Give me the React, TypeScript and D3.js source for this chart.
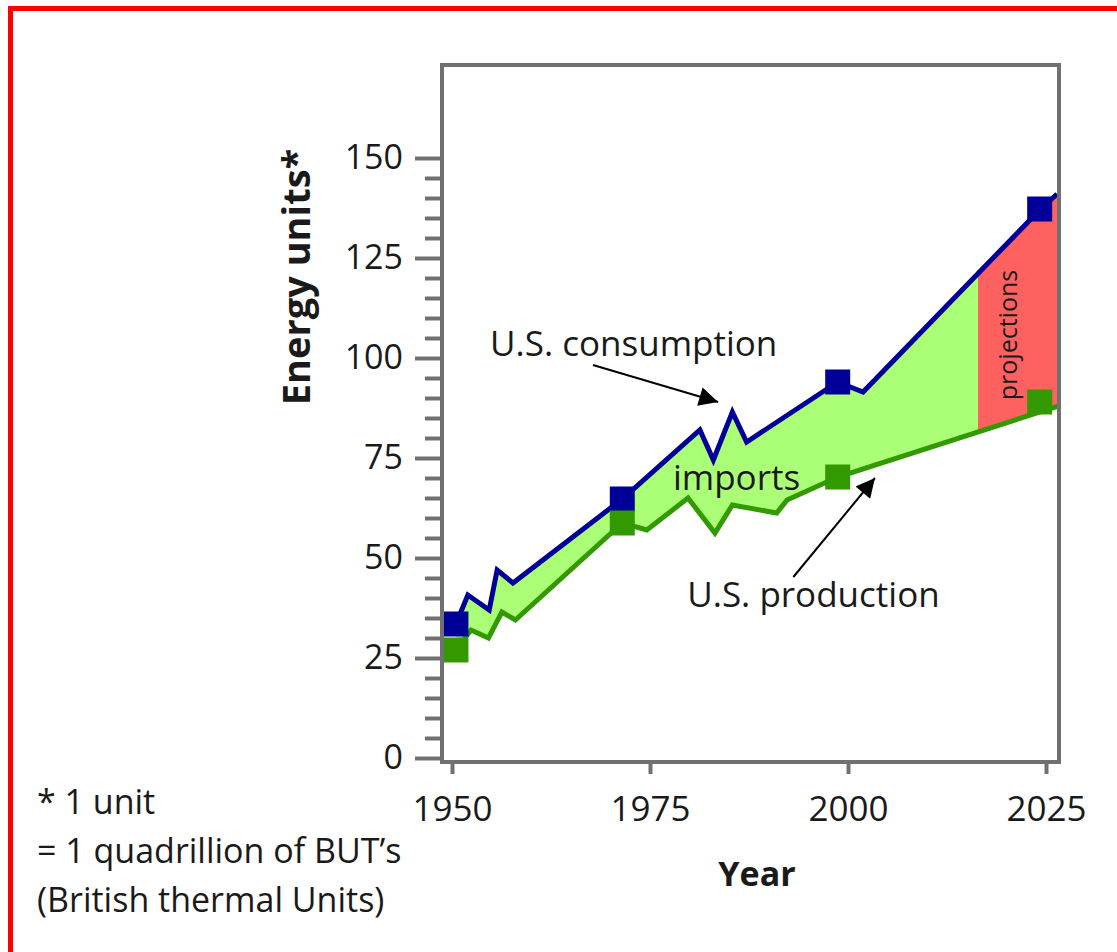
import React, { useEffect, useRef } from "react";
import * as d3 from "d3";

// consumption line (blue)
const consumptionYears = [1950.5, 1952, 1954.7, 1955.7, 1957.7, 1971.5, 1981.3, 1983, 1985.4, 1987.2, 1998.7, 2001.9, 2024.2, 2026.4];
const consumptionValues = [33.5, 40.75, 37, 47, 43.75, 64.75, 82, 74.5, 86.5, 79, 94, 91.5, 137, 141];

// production line (green)
const productionYears = [1950.5, 1952.4, 1954.6, 1956.3, 1958, 1971.5, 1974.6, 1979.8, 1983.2, 1985.4, 1991, 1992.3, 1998.7, 2026.6];
const productionValues = [27, 32, 30, 36.5, 34.5, 58.75, 57, 65, 56.25, 63.25, 61.25, 64.5, 70.25, 88];

// square markers
const markerYears = [1950.5, 1971.5, 1998.7, 2024.2];
const consumptionMarkers = [33.5, 64.75, 94, 137.25];
const productionMarkers = [27, 58.75, 70.25, 89];

const projectionStart = 2016.4;

const xTicks = [1950, 1975, 2000, 2025];
const yMajorTicks = [0, 25, 50, 75, 100, 125, 150];
const yMinorTicks = d3.range(0, 151, 5).filter((v) => v % 25 !== 0);

const footnote = ["* 1 unit", "= 1 quadrillion of BUT\u2019s", "(British thermal Units)"];

const FONT = "'Open Sans', sans-serif";

export default function App() {
  const ref = useRef<SVGSVGElement | null>(null);

  useEffect(() => {
    const svg = d3.select(ref.current);
    svg.selectAll("*").remove();

    const frame = { left: 442, top: 65, right: 1059, bottom: 762 };
    const x = d3.scaleLinear().domain([1950, 2025]).range([452, 1046]);
    const y = d3.scaleLinear().domain([0, 150]).range([758, 158]);

    const cons = consumptionYears.map((yr, i) => ({ yr, v: consumptionValues[i] }));
    const prod = productionYears.map((yr, i) => ({ yr, v: productionValues[i] }));

    const line = d3
      .line<{ yr: number; v: number }>()
      .x((d) => x(d.yr))
      .y((d) => y(d.v));

    // outer red border
    svg
      .append("rect")
      .attr("x", 10.5)
      .attr("y", 8.5)
      .attr("width", 1120)
      .attr("height", 946)
      .attr("fill", "none")
      .attr("stroke", "#ff0000")
      .attr("stroke-width", 5);

    const defs = svg.append("defs");
    defs
      .append("clipPath")
      .attr("id", "plotClip")
      .append("rect")
      .attr("x", frame.left)
      .attr("y", frame.top)
      .attr("width", frame.right - frame.left)
      .attr("height", frame.bottom - frame.top);
    defs
      .append("clipPath")
      .attr("id", "histClip")
      .append("rect")
      .attr("x", frame.left)
      .attr("y", frame.top)
      .attr("width", x(projectionStart) - frame.left)
      .attr("height", frame.bottom - frame.top);
    defs
      .append("clipPath")
      .attr("id", "projClip")
      .append("rect")
      .attr("x", x(projectionStart))
      .attr("y", frame.top)
      .attr("width", frame.right - x(projectionStart))
      .attr("height", frame.bottom - frame.top);
    defs
      .append("marker")
      .attr("id", "arrowHead")
      .attr("viewBox", "0 0 10 10")
      .attr("refX", 10)
      .attr("refY", 5)
      .attr("markerUnits", "userSpaceOnUse")
      .attr("markerWidth", 24)
      .attr("markerHeight", 19)
      .attr("orient", "auto")
      .append("path")
      .attr("d", "M0,0L10,5L0,10Z")
      .attr("fill", "#000");

    const plot = svg.append("g").attr("clip-path", "url(#plotClip)");
    const bandPath = line(cons.concat(prod.slice().reverse())) + "Z";

    plot
      .append("path")
      .attr("d", bandPath)
      .attr("fill", "#aaff77")
      .attr("clip-path", "url(#histClip)");
    plot
      .append("path")
      .attr("d", bandPath)
      .attr("fill", "#ff6060")
      .attr("clip-path", "url(#projClip)");

    plot
      .append("path")
      .attr("d", line(prod))
      .attr("fill", "none")
      .attr("stroke", "#339900")
      .attr("stroke-width", 5);
    plot
      .append("path")
      .attr("d", line(cons))
      .attr("fill", "none")
      .attr("stroke", "#000099")
      .attr("stroke-width", 5);

    const sq = 25;
    plot
      .selectAll("rect.cm")
      .data(markerYears)
      .enter()
      .append("rect")
      .attr("class", "cm")
      .attr("x", (d) => x(d) - sq / 2)
      .attr("y", (d, i) => y(consumptionMarkers[i]) - sq / 2)
      .attr("width", sq)
      .attr("height", sq)
      .attr("fill", "#000099");
    plot
      .selectAll("rect.pm")
      .data(markerYears)
      .enter()
      .append("rect")
      .attr("class", "pm")
      .attr("x", (d) => x(d) - sq / 2)
      .attr("y", (d, i) => y(productionMarkers[i]) - sq / 2)
      .attr("width", sq)
      .attr("height", sq)
      .attr("fill", "#339900");

    // axes
    const axisColor = "#707070";
    const yMinor = svg
      .append("g")
      .attr("transform", `translate(${frame.left},0)`)
      .call(d3.axisLeft(y).tickValues(yMinorTicks).tickSize(17).tickFormat(() => ""));
    yMinor.select(".domain").remove();
    yMinor.selectAll("line").attr("stroke", axisColor).attr("stroke-width", 4);

    const yMajor = svg
      .append("g")
      .attr("transform", `translate(${frame.left},0)`)
      .call(d3.axisLeft(y).tickValues(yMajorTicks).tickSize(27).tickPadding(12));
    yMajor.select(".domain").remove();
    yMajor.selectAll("line").attr("stroke", axisColor).attr("stroke-width", 4);
    yMajor
      .selectAll("text")
      .attr("fill", "#1a1a1a")
      .style("font-family", FONT)
      .style("font-size", "34px");

    const xAxis = svg
      .append("g")
      .attr("transform", `translate(0,${frame.bottom})`)
      .call(d3.axisBottom(x).tickValues(xTicks).tickSize(12).tickPadding(22).tickFormat(d3.format("d")));
    xAxis.select(".domain").remove();
    xAxis.selectAll("line").attr("stroke", axisColor).attr("stroke-width", 4);
    xAxis
      .selectAll("text")
      .attr("fill", "#1a1a1a")
      .style("font-family", FONT)
      .style("font-size", "35px");

    // plot frame
    svg
      .append("rect")
      .attr("x", frame.left)
      .attr("y", frame.top)
      .attr("width", frame.right - frame.left)
      .attr("height", frame.bottom - frame.top)
      .attr("fill", "none")
      .attr("stroke", axisColor)
      .attr("stroke-width", 4);

    // axis titles
    svg
      .append("text")
      .attr("transform", "translate(310,277) rotate(-90)")
      .attr("text-anchor", "middle")
      .style("font-family", FONT)
      .style("font-weight", 700)
      .style("font-size", "38px")
      .attr("fill", "#1a1a1a")
      .text("Energy units*");
    svg
      .append("text")
      .attr("x", 757)
      .attr("y", 886)
      .attr("text-anchor", "middle")
      .style("font-family", FONT)
      .style("font-weight", 700)
      .style("font-size", "34px")
      .attr("fill", "#1a1a1a")
      .text("Year");

    // annotations
    const note = (txt: string, yr: number, v: number, size: number) =>
      svg
        .append("text")
        .attr("x", x(yr))
        .attr("y", y(v))
        .style("font-family", FONT)
        .style("font-size", size + "px")
        .attr("fill", "#1a1a1a")
        .text(txt);
    note("U.S. consumption", 1954.8, 100.5, 35);
    note("imports", 1977.9, 67, 35);
    note("U.S. production", 1979.7, 37.75, 35);

    svg
      .append("text")
      .attr("transform", `translate(${x(2021.4)},${y(105.75)}) rotate(-90)`)
      .attr("text-anchor", "middle")
      .style("font-family", FONT)
      .style("font-size", "25px")
      .attr("fill", "#1a1a1a")
      .text("projections");

    const arrow = (x1: number, y1: number, x2: number, y2: number) =>
      svg
        .append("line")
        .attr("x1", x(x1))
        .attr("y1", y(y1))
        .attr("x2", x(x2))
        .attr("y2", y(y2))
        .attr("stroke", "#000")
        .attr("stroke-width", 2)
        .attr("marker-end", "url(#arrowHead)");
    arrow(1967.8, 98.25, 1983.6, 89);
    arrow(1993.1, 45.25, 2003.4, 70);

    // footnote
    svg
      .selectAll("text.foot")
      .data(footnote)
      .enter()
      .append("text")
      .attr("class", "foot")
      .attr("x", 37)
      .attr("y", (d, i) => 814 + i * 49)
      .style("font-family", FONT)
      .style("font-size", "34px")
      .attr("fill", "#1a1a1a")
      .text((d) => d);
  }, []);

  return (
    <svg
      ref={ref}
      width={1117}
      height={952}
      style={{ position: "absolute", left: 0, top: 0, background: "#fff" }}
    />
  );
}
